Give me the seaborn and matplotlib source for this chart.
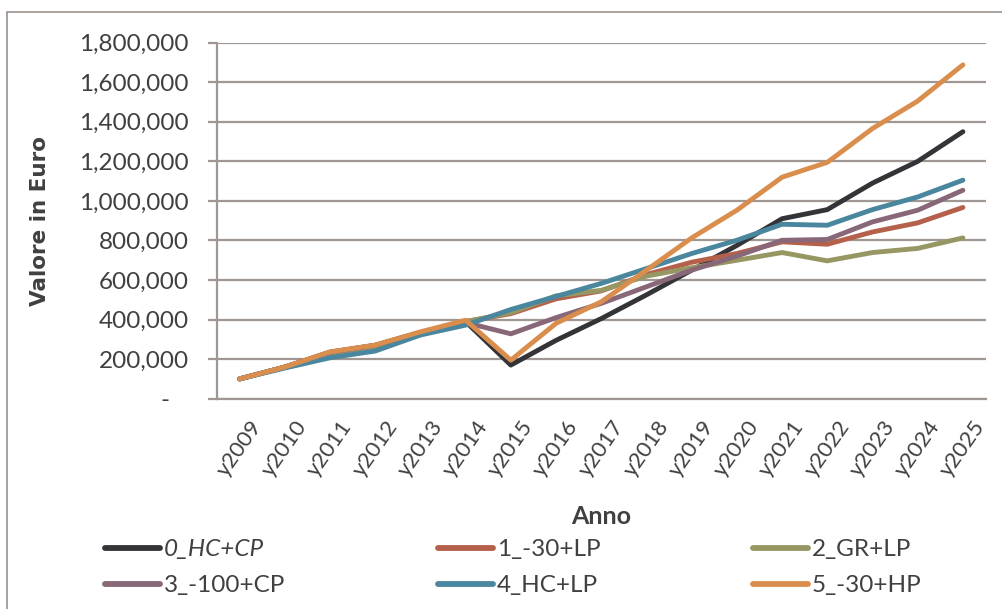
import matplotlib
matplotlib.use("Agg")
import matplotlib.pyplot as plt
from matplotlib.patches import Rectangle
from matplotlib.ticker import FuncFormatter, MultipleLocator
import seaborn as sns
import pandas as pd

years = ["y2009", "y2010", "y2011", "y2012", "y2013", "y2014", "y2015", "y2016", "y2017",
         "y2018", "y2019", "y2020", "y2021", "y2022", "y2023", "y2024", "y2025"]

scenarios = ["0_HC+CP", "1_-30+LP", "2_GR+LP", "3_-100+CP", "4_HC+LP", "5_-30+HP"]

s0_hc_cp = [100000, 160000, 235000, 270000, 335000, 390000, 170000, 295000, 405000,
            525000, 650000, 775000, 910000, 956000, 1090000, 1200000, 1350000]
s1_m30_lp = [100000, 160000, 230000, 265000, 330000, 390000, 430000, 505000, 545000,
             628000, 690000, 734000, 793000, 781000, 843000, 889000, 967000]
s2_gr_lp = [100000, 160000, 230000, 265000, 330000, 390000, 435000, 520000, 548000,
            620000, 662000, 700000, 739000, 697000, 739000, 760000, 813000]
s3_m100_cp = [100000, 160000, 235000, 270000, 335000, 385000, 328000, 410000, 482000,
              566000, 650000, 721000, 801000, 805000, 894000, 953000, 1054000]
s4_hc_lp = [100000, 155000, 207000, 241000, 322000, 372000, 451000, 517000, 583000,
            658000, 734000, 801000, 882000, 877000, 956000, 1020000, 1105000]
s5_m30_hp = [100000, 160000, 237000, 271000, 338000, 397000, 195000, 381000, 490000,
             650000, 813000, 953000, 1120000, 1195000, 1366000, 1505000, 1688000]

series = [s0_hc_cp, s1_m30_lp, s2_gr_lp, s3_m100_cp, s4_hc_lp, s5_m30_hp]
colors = ["#333338", "#B5604B", "#979764", "#886878", "#4A879E", "#DA8E4D"]

df = pd.DataFrame(
    [(y, name, v) for name, vals in zip(scenarios, series) for y, v in zip(years, vals)],
    columns=["Anno", "Scenario", "Valore"],
)

sns.set_theme(style="white")
plt.rcParams["font.family"] = ["Lato", "DejaVu Sans"]

axis_c = "#A09792"
text_c = "#404040"

fig = plt.figure(figsize=(10.02, 6.09), dpi=100)
ax = fig.add_axes([217 / 1002, 1 - 398.7 / 609, (985.5 - 217) / 1002, (398.7 - 42.7) / 609])

sns.lineplot(data=df, x="Anno", y="Valore", hue="Scenario", hue_order=scenarios,
             palette=colors, sort=False, linewidth=3.5, ax=ax, legend=True)
for ln in ax.get_lines():
    ln.set_solid_capstyle("round")
    ln.set_solid_joinstyle("round")

ax.set_ylim(0, 1800000)
ax.set_xlim(-0.5, len(years) - 0.5)
ax.yaxis.set_major_locator(MultipleLocator(200000))
ax.yaxis.set_major_formatter(FuncFormatter(lambda v, p: "-   " if v == 0 else f"{v:,.0f}"))
ax.grid(axis="y", color=axis_c, linewidth=1.6)
ax.set_axisbelow(True)
for side in ("top", "right"):
    ax.spines[side].set_visible(False)
for side in ("left", "bottom"):
    ax.spines[side].set_color(axis_c)
    ax.spines[side].set_linewidth(1.6)

ax.tick_params(axis="y", which="major", left=True, length=6.5, width=1.6, color=axis_c,
               labelsize=17.5, labelcolor=text_c, pad=14)
ax.tick_params(axis="x", bottom=False, labelsize=16, labelcolor=text_c, pad=7)
plt.setp(ax.get_xticklabels(), rotation=55, ha="center", va="top")

ax.set_ylabel("Valore in Euro", fontsize=15.5, fontweight="bold", color=text_c,
              family="DejaVu Sans", labelpad=21)
ax.set_xlabel("Anno", fontsize=18, fontweight="bold", color=text_c, labelpad=18)

handles, labels = ax.get_legend_handles_labels()
ax.get_legend().remove()
order = [0, 3, 1, 4, 2, 5]
leg = fig.legend([handles[i] for i in order], [labels[i] for i in order], ncol=3,
                 loc="upper left", bbox_to_anchor=(105 / 1002, 1 - 539 / 609), frameon=False,
                 borderaxespad=0, borderpad=0,
                 fontsize=17.5, handlelength=2.26, handletextpad=0.15, columnspacing=6.3,
                 labelspacing=0.62, labelcolor=text_c)
for h in leg.get_lines():
    h.set_linewidth(4.2)
    h.set_solid_capstyle("round")
for t in leg.get_texts():
    if t.get_text() == "0_HC+CP":
        t.set_fontstyle("italic")

fig.add_artist(Rectangle((7 / 1002, -0.1), 1.2, 0.1 + (1 - 12 / 609), transform=fig.transFigure,
                         fill=False, edgecolor="#9A918C", linewidth=1.2))

fig.savefig("out.png", dpi=100)
